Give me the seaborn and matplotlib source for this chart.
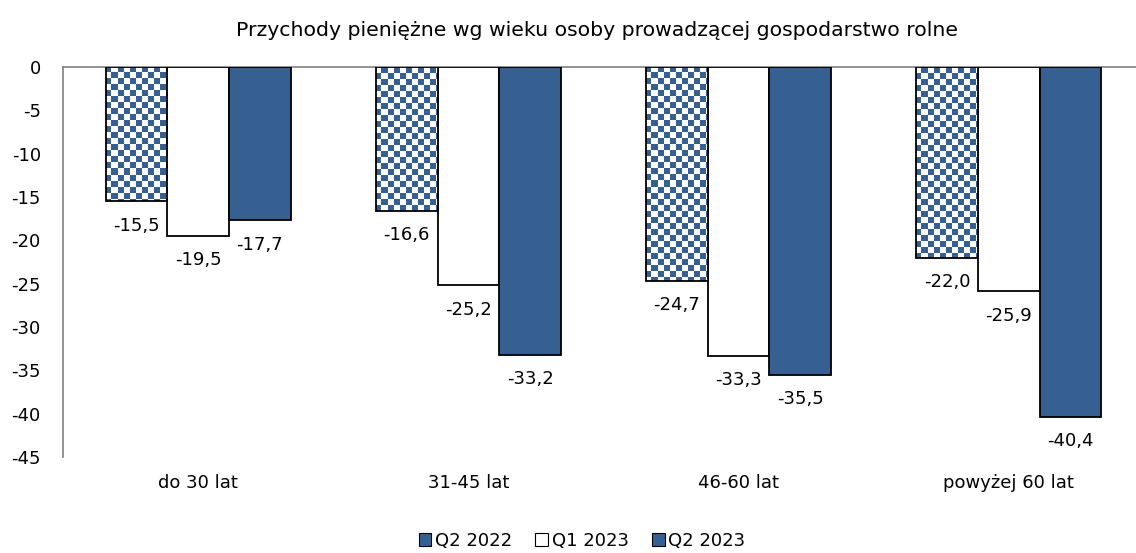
import numpy as np
import pandas as pd
import matplotlib
matplotlib.use("Agg")
import matplotlib.pyplot as plt
from matplotlib.patches import Patch
import seaborn as sns

# dane
kategorie = ["do 30 lat", "31-45 lat", "46-60 lat", "powyżej 60 lat"]
serie = ["Q2 2022", "Q1 2023", "Q2 2023"]
q2_2022 = [-15.5, -16.6, -24.7, -22.0]
q1_2023 = [-19.5, -25.2, -33.3, -25.9]
q2_2023 = [-17.7, -33.2, -35.5, -40.4]
tytul = "Przychody pieniężne wg wieku osoby prowadzącej gospodarstwo rolne"

NIEBIESKI = "#376092"

df = pd.DataFrame({
    "kategoria": kategorie * 3,
    "seria": np.repeat(serie, len(kategorie)),
    "wartosc": q2_2022 + q1_2023 + q2_2023,
})

sns.set_style("white")
plt.rcParams["font.family"] = ["DejaVu Sans"]
plt.rcParams["text.color"] = "black"
plt.rcParams["xtick.color"] = "black"
plt.rcParams["ytick.color"] = "black"

fig = plt.figure(figsize=(11.36, 5.53), dpi=100)
ax = fig.add_axes([63 / 1136, 1 - 457 / 553, 1081 / 1136, 390 / 553])

paleta = {"Q2 2022": NIEBIESKI, "Q1 2023": "white", "Q2 2023": NIEBIESKI}
sns.barplot(data=df, x="kategoria", y="wartosc", hue="seria", order=kategorie,
            hue_order=serie, palette=paleta, width=0.685, edgecolor="black",
            linewidth=1.3, saturation=1, legend=False, ax=ax)

ax.set_xlim(-0.5, 3.5)
ax.set_ylim(-45, 0)

# wzor szachownicy dla Q2 2022
nx, ny = int(1081 / 6), int(390 / 6)
szach = (np.add.outer(np.arange(ny), np.arange(nx)) % 2).astype(float)
cmap = matplotlib.colors.ListedColormap(["white", NIEBIESKI])
for cont, seria in zip(ax.containers, serie):
    etykiety = [f"{v:.1f}".replace(".", ",") for v in cont.datavalues]
    ax.bar_label(cont, labels=etykiety, padding=11, fontsize=13)
    if seria == "Q2 2022":
        for bar in cont:
            bar.set_facecolor("none")
            bar.set_zorder(2)
            im = ax.imshow(szach, cmap=cmap, extent=(-0.5, 3.5, -45, 0),
                           aspect="auto", interpolation="nearest", zorder=1)
            im.set_clip_path(bar)

ax.set_xlim(-0.5, 3.5)
ax.set_ylim(-45, 0)
ax.set_yticks(np.arange(-45, 1, 5))
ax.set_yticklabels([str(t) for t in range(-45, 1, 5)])
ax.tick_params(axis="y", labelsize=13, length=0, pad=16)
ax.tick_params(axis="x", top=False, bottom=False, labelbottom=False)
ax.set_xlabel("")
ax.set_ylabel("")

for i, k in enumerate(kategorie):
    ax.text(i, -48, k, ha="center", va="center", fontsize=13)

for s in ["right", "bottom"]:
    ax.spines[s].set_visible(False)
for s in ["left", "top"]:
    ax.spines[s].set_color("#808080")
    ax.spines[s].set_linewidth(1.2)
ax.spines["top"].set_zorder(0.5)

fig.text(597 / 1136, 1 - 30 / 553, tytul, ha="center", va="center", fontsize=14.7)

uchwyty = [
    Patch(facecolor=NIEBIESKI, edgecolor="black", linewidth=0.8),
    Patch(facecolor="white", edgecolor="black", linewidth=0.8),
    Patch(facecolor=NIEBIESKI, edgecolor="black", linewidth=0.8),
]
fig.legend(uchwyty, serie, loc="center", bbox_to_anchor=(582 / 1136, 1 - 541 / 553),
           ncol=3, frameon=False, fontsize=13, handlelength=0.7, handleheight=0.7,
           handletextpad=0.2, columnspacing=1.3)

fig.savefig("out.png", dpi=100)
